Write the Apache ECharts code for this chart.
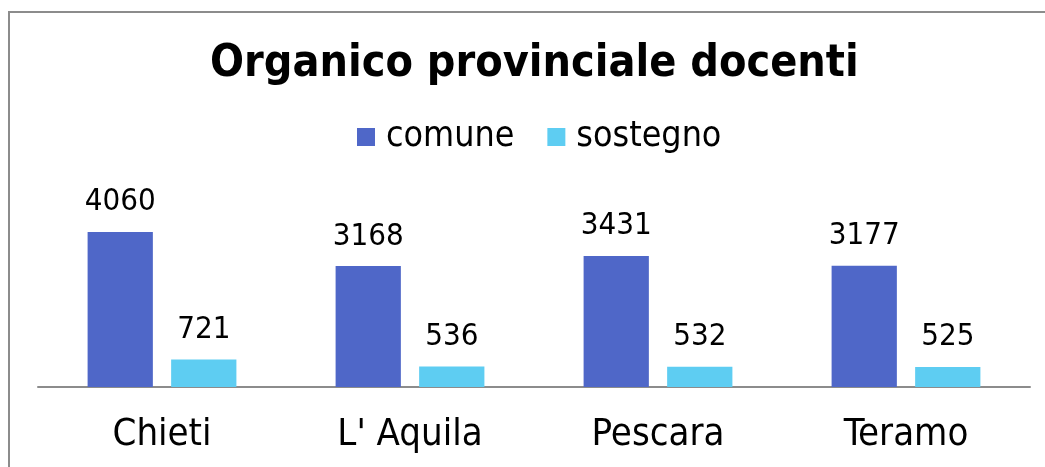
<!DOCTYPE html>
<html>
<head>
<meta charset="utf-8">
<script src="https://cdn.jsdelivr.net/npm/echarts@6/dist/echarts.min.js"></script>
<style>
  html, body { margin: 0; padding: 0; background: #fff; }
  #chart { width: 1045px; height: 467px; }
</style>
</head>
<body>
<div id="chart"></div>
<script>
// dati
var province = ['Chieti', "L' Aquila", 'Pescara', 'Teramo'];
var comune = [4060, 3168, 3431, 3177];
var sostegno = [721, 536, 532, 525];

var fontName = '"DejaVu Sans Condensed", sans-serif';

var chart = echarts.init(document.getElementById('chart'));
var option = {
  animation: false,
  title: {
    text: 'Organico provinciale docenti',
    left: 205,
    top: 37,
    textStyle: {
      fontFamily: fontName,
      fontWeight: 'bold',
      fontSize: 44.5,
      color: '#000'
    }
  },
  legend: {
    top: 114,
    left: 352,
    itemWidth: 18,
    itemHeight: 18,
    itemGap: 33,
    icon: 'rect',
    textStyle: { fontFamily: fontName, fontSize: 35.5, color: '#000', padding: [0, 0, 0, 6] },
    data: ['comune', 'sostegno']
  },
  grid: {
    left: 38,
    right: 15,
    top: 196,
    bottom: 80
  },
  xAxis: [{
    type: 'category',
    data: province,
    axisTick: { show: false },
    axisLine: { lineStyle: { color: '#8c8c8c', width: 2 } },
    axisLabel: {
      margin: 29,
      fontFamily: fontName,
      fontSize: 38,
      color: '#000'
    }
  }],
  yAxis: [{
    type: 'value',
    min: 0,
    max: 5000,
    show: false,
    splitLine: { show: false }
  }],
  series: [{
    name: 'comune',
    type: 'bar',
    data: comune,
    barGap: '28%',
    barCategoryGap: '40%',
    itemStyle: { color: '#4f67c8' },
    label: {
      show: true,
      position: 'top',
      distance: 14,
      fontFamily: fontName,
      fontSize: 31,
      color: '#000'
    }
  }, {
    name: 'sostegno',
    type: 'bar',
    data: sostegno,
    itemStyle: { color: '#5ecdf2' },
    label: {
      show: true,
      position: 'top',
      distance: 14,
      fontFamily: fontName,
      fontSize: 31,
      color: '#000'
    }
  }],
  graphic: [{
    type: 'rect',
    shape: { x: 9, y: 12, width: 1100, height: 500 },
    style: { fill: 'none', stroke: '#8c8c8c', lineWidth: 2 },
    silent: true
  }]
};
chart.setOption(option);
</script>
</body>
</html>
